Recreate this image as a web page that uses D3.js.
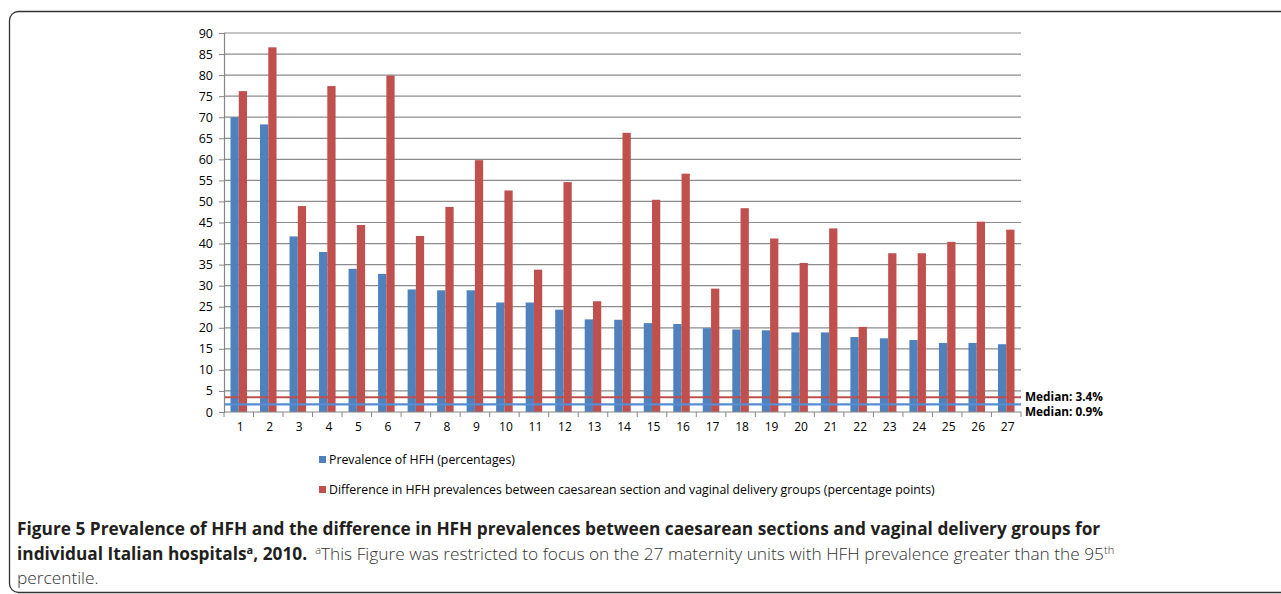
<!DOCTYPE html>
<html>
<head>
<meta charset="utf-8">
<script src="https://cdn.jsdelivr.net/npm/d3@7"></script>
<style>
  body { margin: 0; background: #fff; }
  svg { display: block; }
</style>
</head>
<body>
<div class="container"></div>
<script>
const hospitals = d3.range(1, 28).map(String);
const prevalence = [70.0, 68.3, 41.7, 38.0, 34.0, 32.8, 29.1, 28.9, 28.9, 26.0, 26.0, 24.3, 22.0, 21.9,
  21.1, 20.9, 19.9, 19.6, 19.4, 18.9, 18.9, 17.8, 17.5, 17.1, 16.4, 16.4, 16.1];
const difference = [76.2, 86.6, 48.9, 77.4, 44.4, 79.9, 41.8, 48.7, 59.8, 52.6, 33.8, 54.6, 26.3, 66.3,
  50.4, 56.6, 29.3, 48.4, 41.2, 35.4, 43.6, 20.2, 37.7, 37.7, 40.4, 45.2, 43.3];
const yTicks = d3.range(0, 95, 5);
const seriesNames = ['Prevalence of HFH (percentages)',
  'Difference in HFH prevalences between caesarean section and vaginal delivery groups (percentage points)'];
const medianLabels = ['Median: 3.4%', 'Median: 0.9%'];
const medianLevels = [3.5, 1.8]; // where the lines sit in the picture

const renderChart = () => {
  const width = 1281;
  const height = 594;
  const plot = { left: 224, top: 33, width: 797, height: 379 };
  const colors = ['#4f81bd', '#c0504d'];
  const medianColors = ['#c0504d', '#558ed5'];

  const svg = d3.select('.container').append('svg').attr('width', width).attr('height', height);

  //frame
  svg.append('rect')
    .attr('x', 9.5).attr('y', 11.5)
    .attr('width', 1300).attr('height', 581)
    .attr('rx', 9)
    .attr('fill', 'none').attr('stroke', '#333').attr('stroke-width', 1.3);

  const chart = svg.append('g').attr('transform', `translate(${plot.left},${plot.top})`);

  //scales
  const x0 = d3.scaleBand().domain(hospitals).range([0, plot.width]).paddingInner(0.44).paddingOuter(0.22);
  const x1 = d3.scaleBand().domain([0, 1]).range([0, x0.bandwidth()]);
  const y = d3.scaleLinear().domain([0, 90]).range([plot.height, 0]);

  //gridlines
  chart.append('g').selectAll('line').data(yTicks.filter(d => d > 0)).join('line')
    .attr('x1', 0).attr('x2', plot.width)
    .attr('y1', d => y(d)).attr('y2', d => y(d))
    .attr('stroke', '#8c8c8c').attr('stroke-width', 1.2);

  //bars
  const rows = hospitals.map((h, i) => ({ h, vals: [prevalence[i], difference[i]] }));
  const groups = chart.append('g').selectAll('g').data(rows).join('g')
    .attr('transform', d => `translate(${x0(d.h)},0)`);
  groups.selectAll('rect').data(d => d.vals.map((v, k) => ({ v, k }))).join('rect')
    .attr('x', d => x1(d.k))
    .attr('width', x1.bandwidth())
    .attr('y', d => y(d.v))
    .attr('height', d => plot.height - y(d.v))
    .attr('fill', d => colors[d.k]);

  //median lines
  chart.append('g').selectAll('line').data(medianLevels).join('line')
    .attr('x1', 0).attr('x2', plot.width)
    .attr('y1', d => y(d)).attr('y2', d => y(d))
    .attr('stroke', (d, i) => medianColors[i]).attr('stroke-width', 2.2);

  svg.append('g').selectAll('text').data(medianLabels).join('text')
    .attr('x', plot.left + plot.width + 4)
    .attr('y', (d, i) => plot.top + y(medianLevels[0]) + 3.5 + i * 15)
    .attr('font-family', 'Open Sans, sans-serif').attr('font-weight', 'bold')
    .attr('font-size', 11.8).attr('fill', '#000')
    .text(d => d);

  //left axis
  const leftAxis = chart.append('g').call(d3.axisLeft(y).tickValues(yTicks).tickSize(5).tickPadding(6));
  leftAxis.select('.domain').attr('stroke', '#868686').attr('stroke-width', 1.2);
  leftAxis.selectAll('.tick line').attr('stroke', '#868686');
  leftAxis.selectAll('text').attr('font-family', 'Open Sans, sans-serif').attr('font-size', 12.5).attr('fill', '#000');

  //bottom axis: labels under bands, ticks between them
  const bottom = chart.append('g').attr('transform', `translate(0,${plot.height})`);
  bottom.append('line').attr('x1', 0).attr('x2', plot.width).attr('stroke', '#868686').attr('stroke-width', 1.2);
  bottom.selectAll('.sep').data(d3.range(0, hospitals.length + 1)).join('line')
    .attr('class', 'sep')
    .attr('x1', d => d * plot.width / hospitals.length).attr('x2', d => d * plot.width / hospitals.length)
    .attr('y1', 0).attr('y2', 5)
    .attr('stroke', '#868686');
  bottom.selectAll('text').data(hospitals).join('text')
    .attr('x', d => x0(d) + x0.bandwidth() / 2 + 1.5)
    .attr('y', 19)
    .attr('text-anchor', 'middle')
    .attr('font-family', 'Open Sans, sans-serif').attr('font-size', 12).attr('fill', '#000')
    .text(d => d);

  //legend
  const legend = svg.append('g').selectAll('g').data(seriesNames).join('g')
    .attr('transform', (d, i) => `translate(319,${456 + i * 30})`);
  legend.append('rect').attr('width', 7).attr('height', 7).attr('fill', (d, i) => colors[i]);
  legend.append('text').attr('x', 10).attr('y', 7.5)
    .attr('font-family', 'Open Sans, sans-serif').attr('font-size', 12.3).attr('fill', '#000')
    .text(d => d);

  //caption
  const cap = svg.append('g').attr('font-family', 'Open Sans, sans-serif').attr('fill', '#231f20');
  cap.append('text').attr('x', 17).attr('y', 535)
    .attr('font-size', 17.3).attr('font-weight', 'bold')
    .text('Figure 5 Prevalence of HFH and the difference in HFH prevalences between caesarean sections and vaginal delivery groups for');
  const l2 = cap.append('text').attr('x', 17).attr('y', 560).attr('font-size', 17.3);
  l2.append('tspan').attr('font-weight', 'bold').text('individual Italian hospitals');
  l2.append('tspan').attr('font-weight', 'bold').attr('font-size', 11).attr('dy', -6).text('a');
  l2.append('tspan').attr('font-weight', 'bold').attr('dy', 6).text(', 2010.');
  l2.append('tspan').attr('font-weight', 300).attr('fill', '#333').attr('font-size', 11).attr('dx', 8).attr('dy', -6).text('a');
  l2.append('tspan').attr('font-weight', 300).attr('fill', '#333').attr('dy', 6)
    .text('This Figure was restricted to focus on the 27 maternity units with HFH prevalence greater than the 95');
  l2.append('tspan').attr('font-weight', 300).attr('fill', '#333').attr('font-size', 11).attr('dy', -6).text('th');
  cap.append('text').attr('x', 17).attr('y', 584).attr('font-size', 17.3).attr('font-weight', 300).attr('fill', '#333')
    .text('percentile.');
};

renderChart();
</script>
</body>
</html>
